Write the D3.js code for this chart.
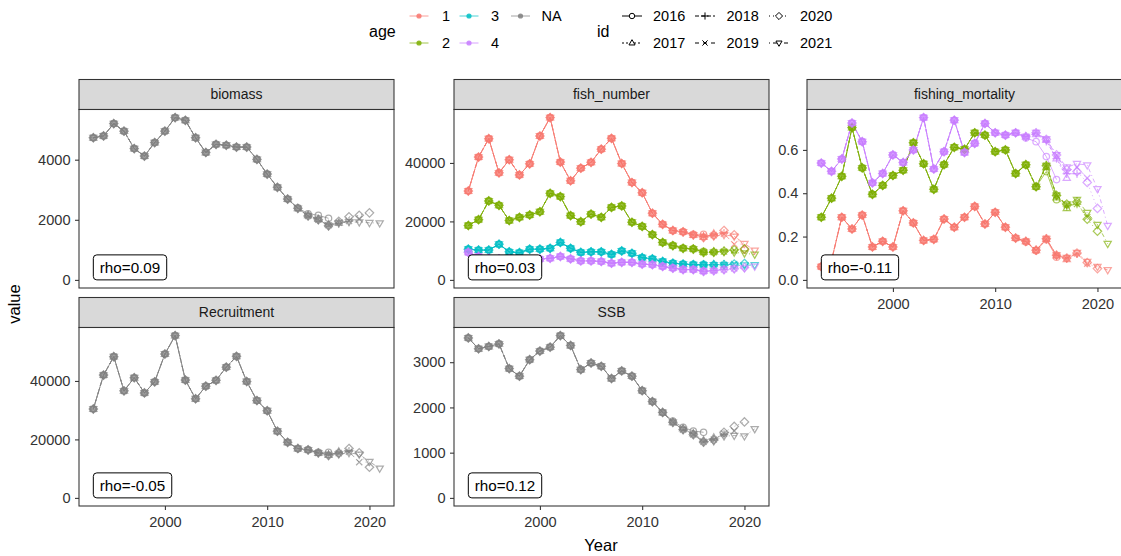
<!DOCTYPE html>
<html><head><meta charset="utf-8">
<script src="https://cdn.jsdelivr.net/npm/d3@7"></script>
<style>
body{margin:0;background:#fff;}
svg{display:block;font-family:"Liberation Sans",Arial,sans-serif;}
</style></head><body>
<svg id="chart" width="1121" height="556"></svg>
<script>
// ---- data -------------------------------------------------------------
const years = [1993,1994,1995,1996,1997,1998,1999,2000,2001,2002,2003,2004,2005,2006,2007,2008,2009,2010,2011,2012,2013,2014,2015,2016,2017,2018,2019,2020,2021];
const runIds = [2016,2017,2018,2019,2020,2021];
const runDash = [null,"2,2","4,2","4,4","1,3","1,3,4,3"];
const ageLevels = ["1","2","3","4","NA"];
const ageColors = ["#F8766D","#7CAE00","#00BFC4","#C77CFF","#7F7F7F"];
const facetNames = ["biomass","fish_number","fishing_mortality","Recruitment","SSB"];
const rhoLabels = ["rho=0.09","rho=0.03","rho=-0.11","rho=-0.05","rho=0.12"];
const xTicks = [2000,2010,2020];
const biomassTicks = [0,2000,4000];
const numberTicks = [0,20000,40000];
const mortalityTicks = [0,0.2,0.4,0.6];
const ssbTicks = [0,1000,2000,3000];

// terminal (2021) run
const biomass = [4730,4790,5200,4950,4370,4120,4570,4950,5400,5310,4730,4240,4510,4480,4420,4420,4010,3520,3080,2690,2380,2130,2000,1800,1890,1930,1920,1900,1890];
// peels 2016..2020: values of the last four years of each run
const biomassPeels = [[2400,2200,2150,2050],[2150,2020,1850,1900],[2000,1820,1880,1950],[1820,1900,1960,2030],[1950,2100,2150,2230]];

const numbersAge1 = [30400,42000,48300,36600,41100,35900,39700,49200,55500,40300,33900,38200,40200,44700,48400,39800,33300,29800,22800,19000,16900,16400,15400,14500,15000,15400,14900,12400,10100];
const numbersAge1Peels = [[16800,16500,15600,15600],[16400,15300,14600,15800],[15300,14900,15400,16000],[14900,15300,15800,12200],[15200,16900,15400,10500]];
const numbersAge2 = [18600,20600,27000,25500,20300,21400,22200,23300,29600,28500,22000,19900,22500,21400,24800,25300,19700,18300,15500,12800,11700,10800,10500,9400,9400,9600,9400,9100,8700];
const numbersAge2Peels = [[11800,10900,10700,9800],[10800,10600,9500,9700],[10600,9450,9500,10000],[9400,9500,9700,10100],[9500,9800,10300,10600]];
const numbersAge3 = [10500,10200,10200,12200,9600,9300,10500,10500,10800,12800,10800,9400,9600,9600,8700,9900,9100,7600,7200,6300,5700,5400,5200,5100,5100,5100,5000,5000,5100];
const numbersAge3Peels = [[5750,5450,5300,5300],[5400,5200,5200,5300],[5150,5150,5150,5350],[5150,5100,5200,5400],[5150,5200,5400,5600]];
const numbersAge4 = [9400,8000,7400,7200,7200,6800,6800,7100,7400,8000,7200,6500,6500,6300,5700,6000,6000,5400,5200,4600,4000,3500,3500,2900,3100,3500,3800,4000,4600];
const numbersAge4Peels = [[4100,3600,3550,3100],[3500,3500,3000,3300],[3480,2950,3200,3600],[2920,3150,3550,3950],[3140,3500,3850,4250]];

const mortalityAge1 = [0.061,0.09,0.289,0.235,0.299,0.152,0.178,0.152,0.319,0.263,0.182,0.187,0.281,0.243,0.289,0.339,0.258,0.312,0.243,0.193,0.178,0.137,0.190,0.114,0.102,0.126,0.084,0.061,0.046];
const mortalityAge1Peels = [[0.175,0.135,0.185,0.105],[0.137,0.188,0.112,0.095],[0.190,0.113,0.100,0.120],[0.114,0.100,0.122,0.075],[0.101,0.124,0.080,0.052]];
const mortalityAge2 = [0.289,0.377,0.478,0.703,0.517,0.395,0.436,0.482,0.506,0.633,0.536,0.418,0.532,0.612,0.603,0.679,0.668,0.592,0.600,0.491,0.532,0.430,0.527,0.390,0.350,0.370,0.310,0.255,0.167];
const mortalityAge2Peels = [[0.53,0.43,0.50,0.37],[0.43,0.52,0.38,0.33],[0.53,0.39,0.34,0.35],[0.39,0.345,0.35,0.29],[0.35,0.36,0.28,0.225]];
const mortalityAge4 = [0.539,0.501,0.558,0.724,0.638,0.448,0.491,0.577,0.542,0.600,0.749,0.512,0.592,0.737,0.588,0.630,0.722,0.679,0.668,0.679,0.661,0.679,0.649,0.577,0.520,0.536,0.530,0.420,0.250];
const mortalityAge4Peels = [[0.655,0.638,0.569,0.463],[0.672,0.645,0.56,0.47],[0.64,0.56,0.49,0.49],[0.575,0.50,0.52,0.47],[0.51,0.50,0.45,0.33]];

const recruitment = [30400,42000,48300,36600,41100,35900,39700,49200,55500,40300,33900,38200,40200,44700,48400,39800,33300,29800,22800,19000,16900,16400,15400,14500,15000,15400,14900,12400,10100];
const recruitmentPeels = [[16800,16500,15600,15600],[16400,15300,14600,15800],[15300,14900,15400,16000],[14900,15300,15800,12200],[15200,16900,15400,10500]];

const ssb = [3537,3297,3348,3406,2859,2691,3056,3246,3333,3588,3370,2837,2983,2910,2640,2808,2691,2371,2130,1889,1670,1510,1400,1233,1255,1364,1378,1365,1524];
const ssbPeels = [[1700,1560,1480,1450],[1530,1420,1270,1330],[1420,1250,1300,1400],[1240,1290,1420,1480],[1280,1450,1580,1680]];

// ---- assemble runs ----------------------------------------------------
function makeRuns(base, peels) {
  return runIds.map((id, i) => {
    const n = years.indexOf(id) + 1;
    const pts = years.slice(0, n).map((yr, j) => ({
      year: yr,
      value: (i < peels.length && j >= n - 4) ? peels[i][j - (n - 4)] : base[j]
    }));
    return { id, idx: i, pts };
  });
}

const facets = [
  { name: facetNames[0], row: 0, col: 0, ticks: biomassTicks, fmt: d3.format("d"), rho: rhoLabels[0], xAxis: false,
    series: [{ age: 4, runs: makeRuns(biomass, biomassPeels) }] },
  { name: facetNames[1], row: 0, col: 1, ticks: numberTicks, fmt: d3.format("d"), rho: rhoLabels[1], xAxis: false,
    series: [
      { age: 0, runs: makeRuns(numbersAge1, numbersAge1Peels) },
      { age: 1, runs: makeRuns(numbersAge2, numbersAge2Peels) },
      { age: 2, runs: makeRuns(numbersAge3, numbersAge3Peels) },
      { age: 3, runs: makeRuns(numbersAge4, numbersAge4Peels) }] },
  { name: facetNames[2], row: 0, col: 2, ticks: mortalityTicks, fmt: d3.format(".1f"), rho: rhoLabels[2], xAxis: true,
    series: [
      { age: 0, runs: makeRuns(mortalityAge1, mortalityAge1Peels) },
      { age: 1, runs: makeRuns(mortalityAge2, mortalityAge2Peels) },
      { age: 3, runs: makeRuns(mortalityAge4, mortalityAge4Peels) }] },
  { name: facetNames[3], row: 1, col: 0, ticks: numberTicks, fmt: d3.format("d"), rho: rhoLabels[3], xAxis: true,
    series: [{ age: 4, runs: makeRuns(recruitment, recruitmentPeels) }] },
  { name: facetNames[4], row: 1, col: 1, ticks: ssbTicks, fmt: d3.format("d"), rho: rhoLabels[4], xAxis: true,
    series: [{ age: 4, runs: makeRuns(ssb, ssbPeels) }] }
];

// ---- layout -----------------------------------------------------------
const colX = [79, 454, 807];
const panelW = 315;
const stripTop = [79.5, 297.5];
const stripH = 30;
const plotH = 178.5;
const FONT_TICK = 14.6;

const svg = d3.select("#chart");
svg.append("rect").attr("width", 1121).attr("height", 556).attr("fill", "#fff");

// point shapes: open circle, open triangle, plus, cross, open diamond, open down-triangle
function shapePath(k, s) {
  const p = d3.path();
  switch (k) {
    case 0: p.arc(0, 0, 3.2 * s, 0, 2 * Math.PI); break;
    case 1: p.moveTo(0, -3.9 * s); p.lineTo(3.6 * s, 2.3 * s); p.lineTo(-3.6 * s, 2.3 * s); p.closePath(); break;
    case 2: p.moveTo(-4.2 * s, 0); p.lineTo(4.2 * s, 0); p.moveTo(0, -4.2 * s); p.lineTo(0, 4.2 * s); break;
    case 3: p.moveTo(-3.1 * s, -3.1 * s); p.lineTo(3.1 * s, 3.1 * s); p.moveTo(-3.1 * s, 3.1 * s); p.lineTo(3.1 * s, -3.1 * s); break;
    case 4: p.moveTo(0, -4.2 * s); p.lineTo(4.2 * s, 0); p.lineTo(0, 4.2 * s); p.lineTo(-4.2 * s, 0); p.closePath(); break;
    case 5: p.moveTo(0, 3.9 * s); p.lineTo(3.6 * s, -2.3 * s); p.lineTo(-3.6 * s, -2.3 * s); p.closePath(); break;
  }
  return p.toString();
}

facets.forEach((f, fi) => {
  const x0 = colX[f.col];
  const top = stripTop[f.row] + stripH;
  const bottom = top + plotH;

  const x = d3.scaleLinear().domain([1993 - 1.4, 2021 + 1.4]).range([x0, x0 + panelW]);
  const maxV = d3.max(f.series, s => d3.max(s.runs, r => d3.max(r.pts, p => p.value)));
  const y = d3.scaleLinear().domain([-0.05 * maxV, maxV * 1.05]).range([bottom, top]);

  const g = svg.append("g");

  // strip
  g.append("rect").attr("x", x0).attr("y", stripTop[f.row]).attr("width", panelW).attr("height", stripH)
    .attr("fill", "#D9D9D9").attr("stroke", "#333").attr("stroke-width", 1.07);
  g.append("text").attr("x", x0 + panelW / 2).attr("y", stripTop[f.row] + stripH / 2)
    .attr("dy", "0.35em").attr("text-anchor", "middle").attr("font-size", 14).attr("fill", "#1A1A1A").text(f.name);

  // clip region
  const clipId = "clip" + fi;
  svg.append("clipPath").attr("id", clipId).append("rect")
    .attr("x", x0).attr("y", top).attr("width", panelW).attr("height", plotH);

  const plot = g.append("g").attr("clip-path", `url(#${clipId})`);
  plot.append("rect").attr("x", x0).attr("y", top).attr("width", panelW).attr("height", plotH).attr("fill", "#fff");

  const line = d3.line().x(p => x(p.year)).y(p => y(p.value));

  // lines
  f.series.forEach(s => {
    s.runs.forEach(r => {
      plot.append("path").datum(r.pts).attr("d", line)
        .attr("fill", "none").attr("stroke", ageColors[s.age]).attr("stroke-width", 1)
        .attr("stroke-opacity", 0.65)
        .attr("stroke-dasharray", runDash[r.idx]);
    });
  });
  // points
  f.series.forEach(s => {
    s.runs.forEach(r => {
      plot.selectAll(null).data(r.pts).join("path")
        .attr("transform", p => `translate(${x(p.year)},${y(p.value)})`)
        .attr("d", shapePath(r.idx, 1))
        .attr("fill", "none").attr("stroke", ageColors[s.age]).attr("stroke-width", 1.25)
        .attr("stroke-opacity", 0.65);
    });
  });

  // rho label (bottom-left, anchored at first year and zero)
  const lab = g.append("g");
  const t = lab.append("text").attr("font-size", 15.2).attr("fill", "#000").text(f.rho);
  const tw = t.node().getComputedTextLength();
  const bx = x(1993), by = y(0);
  lab.insert("rect", "text").attr("x", bx).attr("y", by - 25).attr("width", tw + 13).attr("height", 25)
    .attr("rx", 3.5).attr("fill", "#fff").attr("stroke", "#000").attr("stroke-width", 1);
  t.attr("x", bx + 6.5).attr("y", by - 7);

  // panel border
  g.append("rect").attr("x", x0).attr("y", top).attr("width", panelW).attr("height", plotH)
    .attr("fill", "none").attr("stroke", "#333").attr("stroke-width", 1.07);

  // y axis
  const ya = g.append("g").attr("transform", `translate(${x0},0)`)
    .call(d3.axisLeft(y).tickValues(f.ticks).tickFormat(f.fmt).tickSize(4).tickPadding(4.5));
  ya.select(".domain").remove();
  ya.selectAll(".tick line").attr("stroke", "#333").attr("stroke-width", 1.07);
  ya.selectAll(".tick text").attr("font-size", FONT_TICK).attr("fill", "#333")
    .attr("font-family", "Liberation Sans, Arial, sans-serif");

  // x axis
  if (f.xAxis) {
    const xa = g.append("g").attr("transform", `translate(0,${bottom})`)
      .call(d3.axisBottom(x).tickValues(xTicks).tickFormat(d3.format("d")).tickSize(4).tickPadding(6.5));
    xa.select(".domain").remove();
    xa.selectAll(".tick line").attr("stroke", "#333").attr("stroke-width", 1.07);
    xa.selectAll(".tick text").attr("font-size", FONT_TICK).attr("fill", "#333")
      .attr("font-family", "Liberation Sans, Arial, sans-serif");
  }
});

// axis titles
svg.append("text").attr("x", 601).attr("y", 551).attr("text-anchor", "middle")
  .attr("font-size", 16.5).attr("fill", "#000").text("Year");
svg.append("text").attr("transform", "translate(20,304) rotate(-90)").attr("text-anchor", "middle")
  .attr("font-size", 16.5).attr("fill", "#000").text("value");

// ---- legends ----------------------------------------------------------
const legRows = [16, 43];
const leg = svg.append("g").attr("font-size", 14.5);
leg.append("text").attr("x", 369).attr("y", 31).attr("dy", "0.35em").attr("font-size", 16).text("age");
const ageKeyX = [419, 469, 520.5];
const ageLabX = [442, 491, 541.5];
ageLevels.forEach((a, i) => {
  const c = Math.floor(i / 2), r = i % 2;
  const cx = ageKeyX[c], cy = legRows[r];
  leg.append("line").attr("x1", cx - 9.5).attr("x2", cx + 9.5).attr("y1", cy).attr("y2", cy)
    .attr("stroke", ageColors[i]).attr("stroke-width", 1).attr("stroke-opacity", 0.7);
  leg.append("circle").attr("cx", cx).attr("cy", cy).attr("r", 2.6).attr("fill", ageColors[i]).attr("fill-opacity", 0.85);
  leg.append("text").attr("x", ageLabX[c]).attr("y", cy).attr("dy", "0.35em").text(a);
});

leg.append("text").attr("x", 597).attr("y", 31).attr("dy", "0.35em").attr("font-size", 16).text("id");
const idKeyX = [632, 705, 779];
const idLabX = [653, 726.5, 800];
runIds.forEach((id, i) => {
  const c = Math.floor(i / 2), r = i % 2;
  const cx = idKeyX[c], cy = legRows[r];
  leg.append("line").attr("x1", cx - 10).attr("x2", cx + 10).attr("y1", cy).attr("y2", cy)
    .attr("stroke", "#000").attr("stroke-width", 1).attr("stroke-dasharray", runDash[i]);
  leg.append("path").attr("transform", `translate(${cx},${cy})`).attr("d", shapePath(i, 0.85))
    .attr("fill", "#fff").attr("stroke", "#000").attr("stroke-width", 1);
  leg.append("text").attr("x", idLabX[c]).attr("y", cy).attr("dy", "0.35em").text(id);
});
</script>
</body></html>
